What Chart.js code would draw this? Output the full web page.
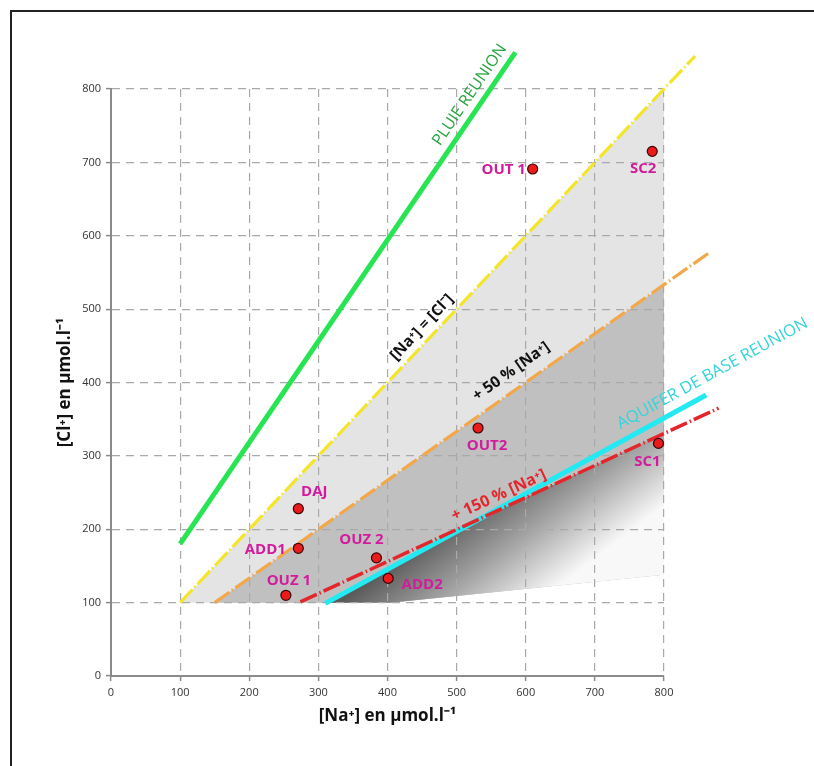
<!DOCTYPE html>
<html><head><meta charset="utf-8">
<script src="https://cdn.jsdelivr.net/npm/chart.js@4.4.1/dist/chart.umd.min.js"></script>
<style>
html,body{margin:0;padding:0;background:#fff;overflow:hidden;}
#wrap{position:relative;width:814px;height:766px;}
#frame{position:absolute;left:10px;top:10px;width:900px;height:900px;border:2px solid #222;pointer-events:none;}
#c{position:absolute;left:0;top:0;}
</style></head><body>
<div id="wrap"><div id="frame"></div><canvas id="c" width="814" height="766"></canvas></div>
<script>
// ---- data ----
const xTicks = [0,100,200,300,400,500,600,700,800];
const yTicks = [0,100,200,300,400,500,600,700,800];

const sampleNames = ['OUT 1','SC2','DAJ','ADD1','OUZ 2','OUZ 1','ADD2','OUT2','SC1'];
const sampleNa    = [610, 783, 271, 271, 384, 253, 401, 531, 792];
const sampleCl    = [691, 715, 228, 174, 161, 110, 133, 338, 317];

const pluieNa    = [100, 585];  const pluieCl    = [180, 850];
const egalNa     = [100, 845];  const egalCl     = [100, 845];
const plus50Na   = [150, 864];  const plus50Cl   = [100, 576];
const plus150Na  = [274, 879];  const plus150Cl  = [101, 365];
const aquiferNa  = [310, 861];  const aquiferCl  = [99, 383];

const zoneLightNa = [100, 800, 800, 404];  const zoneLightCl = [100, 800, 138, 100];
const zoneMidNa   = [150, 800, 800, 404];  const zoneMidCl   = [100, 533, 138, 100];
const zoneDarkNa  = [310, 535, 800, 800, 404];
const zoneDarkCl  = [100, 215, 331, 138, 100];

const lineLabelTexts = ['PLUIE REUNION','[Na\u207A] = [Cl\u207B]','+ 50 % [Na\u207A]','+ 150 % [Na\u207A]','AQUIFER DE BASE REUNION'];
const lineLabelNa    = [519, 450, 579, 561, 870];
const lineLabelCl    = [792, 475, 415, 246, 412];

const xTitle = '[Na\u207A] en \u00B5mol.l\u207B\u00B9';
const yTitle = '[Cl\u207A] en \u00B5mol.l\u207B\u00B9';

// ---- helpers ----
const pts = (xs, ys) => xs.map((x, i) => ({x, y: ys[i]}));

const labelOffsets = [[-29,1],[-9,17],[16,-17],[-33,1],[-15,-18],[3,-15],[34,6],[9,18],[-11,18]];
const lineLabelStyles = [
  {color:'#25a33c', font:'400 16px "Open Sans"', line:0},
  {color:'#111111', font:'700 15.5px "Open Sans"', line:1},
  {color:'#111111', font:'700 15.5px "Open Sans"', line:2},
  {color:'#e3262b', font:'700 16px "Open Sans"', line:3},
  {color:'#33d3dc', font:'400 16.5px "Open Sans"', line:4}
];
const lineDefs = [[pluieNa,pluieCl],[egalNa,egalCl],[plus50Na,plus50Cl],[plus150Na,plus150Cl],[aquiferNa,aquiferCl]];

const labelPlugin = {
  id:'labels',
  afterDatasetsDraw(chart){
    const ctx = chart.ctx, xs = chart.scales.x, ys = chart.scales.y;
    ctx.save();
    ctx.textAlign = 'center'; ctx.textBaseline = 'middle';
    lineLabelTexts.forEach((t, i) => {
      const st = lineLabelStyles[i];
      const [lx, ly] = lineDefs[st.line];
      const a = Math.atan2(ys.getPixelForValue(ly[1]) - ys.getPixelForValue(ly[0]),
                           xs.getPixelForValue(lx[1]) - xs.getPixelForValue(lx[0]));
      ctx.save();
      ctx.translate(xs.getPixelForValue(lineLabelNa[i]), ys.getPixelForValue(lineLabelCl[i]));
      ctx.rotate(a);
      ctx.fillStyle = st.color; ctx.font = st.font;
      ctx.fillText(t, 0, 0);
      ctx.restore();
    });
    ctx.fillStyle = '#d21c9c';
    ctx.font = '700 15px "Open Sans"';
    sampleNames.forEach((n, i) => {
      const px = xs.getPixelForValue(sampleNa[i]) + labelOffsets[i][0];
      const py = ys.getPixelForValue(sampleCl[i]) + labelOffsets[i][1];
      ctx.fillText(n, px, py);
    });
    ctx.restore();
  }
};

const darkGradient = (c) => {
  const chart = c.chart;
  if (!chart.chartArea) return '#999';
  const xs = chart.scales.x, ys = chart.scales.y;
  const sx = xs.getPixelForValue(390), sy = ys.getPixelForValue(143);
  const g = chart.ctx.createLinearGradient(sx, sy, sx + 72, sy + 95);
  g.addColorStop(0, '#5a5a5a');
  g.addColorStop(0.5, '#a5a5a5');
  g.addColorStop(1, '#f8f8f8');
  return g;
};

const lineDs = (data, color, width, dash, order) => ({
  type:'scatter', data, showLine:true, borderColor:color, borderWidth:width,
  borderDash:dash, pointRadius:0, fill:false, clip:false, order, borderCapStyle:'butt'
});

new Chart(document.getElementById('c'), {
  type:'scatter',
  data:{ datasets:[
    {data: pts(sampleNa, sampleCl), pointRadius:5, pointHoverRadius:5,
     backgroundColor:'#ec1b1b', borderColor:'#3a0505', borderWidth:1.2, order:0, clip:false},
    lineDs(pts(pluieNa, pluieCl), '#27e552', 5, [], 1),
    lineDs(pts(egalNa, egalCl), '#f3e62a', 3.2, [18,3,1.5,3], 2),
    lineDs(pts(plus50Na, plus50Cl), '#f2a84a', 3.2, [18,3,1.5,3], 3),
    lineDs(pts(plus150Na, plus150Cl), '#e3262b', 3.5, [18,3,1.5,3], 4),
    lineDs(pts(aquiferNa, aquiferCl), '#22e9f2', 5, [], 5),
    {data: pts(zoneDarkNa, zoneDarkCl), showLine:true, fill:'shape', borderWidth:0,
     pointRadius:0, backgroundColor: darkGradient, order:10},
    {data: pts(zoneMidNa, zoneMidCl), showLine:true, fill:'shape', borderWidth:0,
     pointRadius:0, backgroundColor:'#c0c0c0', order:11},
    {data: pts(zoneLightNa, zoneLightCl), showLine:true, fill:'shape', borderWidth:0,
     pointRadius:0, backgroundColor:'#e4e4e4', order:12}
  ]},
  options:{
    responsive:false, animation:false, events:[],
    layout:{padding:{top:89, right:150, bottom:0, left:0}},
    plugins:{legend:{display:false}, tooltip:{enabled:false}, filler:{drawTime:'beforeDraw'}},
    scales:{
      x:{type:'linear', min:0, max:800,
        afterBuildTicks(s){ s.ticks = xTicks.map(v => ({value:v})); },
        afterFit(s){ s.height = 90; },
        ticks:{color:'#333', font:{family:'"Open Sans"', size:11}, padding:5},
        grid:{color:(c)=> c.tick && c.tick.value === 0 ? 'rgba(0,0,0,0)' : '#a9a9a9', lineWidth:1.2,
              tickColor:'#8a8a8a', tickLength:5, tickWidth:1.5},
        border:{display:true, color:'#8a8a8a', width:2, dash:[8,6]},
        title:{display:true, text:xTitle, color:'#111', font:{family:'"Open Sans"', size:17, weight:'700'},
               padding:{top:0, bottom:40}}
      },
      y:{type:'linear', min:0, max:800,
        afterBuildTicks(s){ s.ticks = yTicks.map(v => ({value:v})); },
        afterFit(s){ s.width = 111; },
        ticks:{color:'#333', font:{family:'"Open Sans"', size:11}, padding:5},
        grid:{color:(c)=> c.tick && c.tick.value === 0 ? 'rgba(0,0,0,0)' : '#a9a9a9', lineWidth:1.2,
              tickColor:'#8a8a8a', tickLength:5, tickWidth:1.5},
        border:{display:true, color:'#8a8a8a', width:2, dash:[8,6]},
        title:{display:true, text:yTitle, color:'#111', font:{family:'"Open Sans"', size:17, weight:'700'},
               padding:{top:55, bottom:0}}
      }
    }
  },
  plugins:[labelPlugin]
});
</script>
</body></html>
